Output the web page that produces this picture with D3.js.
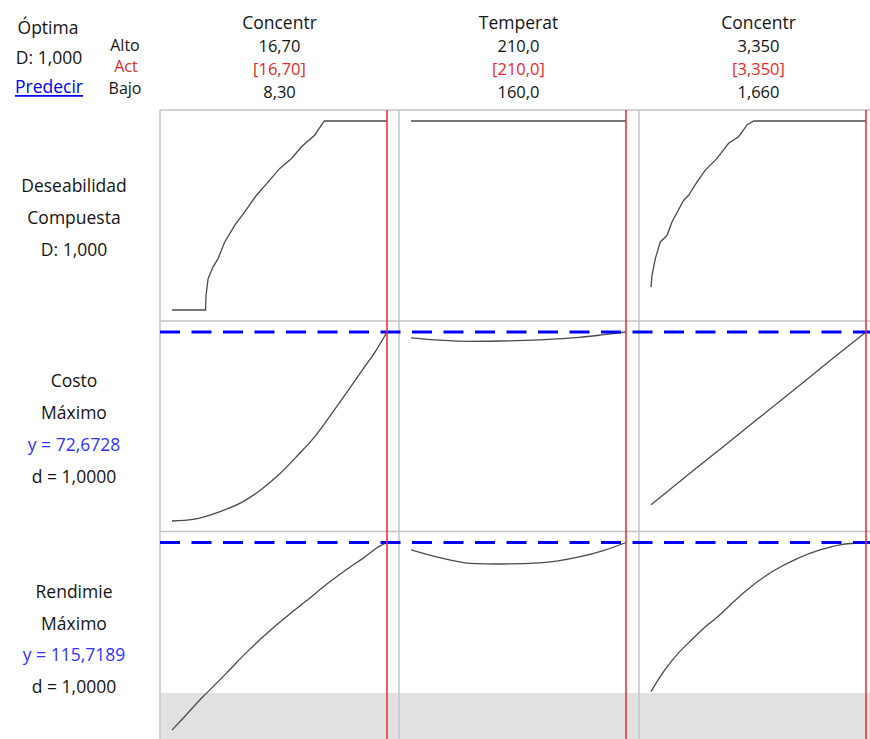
<!DOCTYPE html>
<html>
<head>
<meta charset="utf-8">
<script src="https://cdn.jsdelivr.net/npm/d3@7"></script>
<style>
  body { margin: 0; background: #fff; }
  svg { display: block; font-family: "Open Sans", "Noto Sans", sans-serif; }
</style>
</head>
<body>
<div id="viz"></div>
<script>
// factors (columns)
const factorNames = ["Concentr", "Temperat", "Concentr"];
const altoLabels = ["16,70", "210,0", "3,350"];
const actLabels = ["[16,70]", "[210,0]", "[3,350]"];
const bajoLabels = ["8,30", "160,0", "1,660"];
const factorLow = [8.30, 160.0, 1.660];
const factorHigh = [16.70, 210.0, 3.350];
const factorAct = [16.70, 210.0, 3.350];

// rows
const rowLabels = [
  ["Deseabilidad", "Compuesta", "D: 1,000"],
  ["Costo", "Máximo", "y = 72,6728", "d = 1,0000"],
  ["Rendimie", "Máximo", "y = 115,7189", "d = 1,0000"]
];
const rowDomains = [[0, 1], [25.0, 72.6728], [64.6, 115.7189]];
const optimumY = [null, 72.6728, 115.7189];
const rendLower = 75.0;

// composite desirability
const deseabConc1 = [[8.30,0],[9.61,0],[9.63,0.077],[9.71,0.166],[9.90,0.227],[10.10,0.272],[10.36,0.360],
  [10.75,0.448],[11.14,0.519],[11.60,0.607],[12.06,0.678],[12.51,0.749],[12.97,0.802],[13.36,0.864],
  [13.88,0.926],[14.25,1],[16.70,1]];
const deseabTemp = [[160.0,1],[210.0,1]];
const deseabConc2 = [[1.660,0.121],[1.668,0.183],[1.694,0.272],[1.733,0.360],[1.786,0.395],[1.825,0.466],
  [1.917,0.581],[1.956,0.607],[2.022,0.678],[2.087,0.740],[2.179,0.802],[2.270,0.882],[2.349,0.917],
  [2.415,0.979],[2.467,1],[3.350,1]];

// costo
const costoConc1 = [[8.30,25.0],[9.12,25.4],[10.23,27.5],[11.08,29.9],[11.80,33.0],[12.51,36.9],[13.23,41.7],
  [13.88,46.3],[14.54,52.1],[15.19,58.0],[15.77,63.4],[16.23,67.6],[16.70,72.6728]];
const costoTemp = [[160.0,71.2],[166.7,70.6],[173.7,70.3],[180.6,70.4],[189.9,70.7],[199.1,71.3],[204.9,72.0],[210.0,72.6728]];
const costoConc2 = [[1.660,29.1],[2.000,37.9],[2.400,48.2],[2.800,58.5],[3.100,66.3],[3.350,72.6728]];

// rendimiento
const rendConc1 = [[8.30,65.0],[8.67,67.7],[9.45,73.6],[9.77,75.8],[10.43,80.4],[11.21,86.0],[11.73,89.4],
  [12.38,93.4],[12.90,96.4],[13.56,100.0],[14.34,104.4],[15.12,108.4],[15.77,111.5],[16.43,114.8],[16.70,115.7189]];
const rendTemp = [[160.0,113.7],[166.7,111.6],[173.7,110.1],[180.6,109.9],[189.9,110.2],[199.1,111.8],[204.9,113.6],[210.0,115.7189]];
const rendConc2 = [[1.660,75.4],[1.731,79.4],[1.809,83.1],[1.875,85.8],[1.980,89.4],[2.110,93.6],[2.176,95.4],
  [2.307,99.6],[2.412,102.8],[2.621,108.0],[2.805,111.3],[2.988,113.7],[3.146,115.1],[3.350,115.7189]];

const curves = [
  [deseabConc1, deseabTemp, deseabConc2],
  [costoConc1, costoTemp, costoConc2],
  [rendConc1, rendTemp, rendConc2]
];

const W = 870, H = 739;
const colLeft = [160, 399, 639];
const colW = 239;
const rowTop = [110, 321, 531.5];
const rowH = 211;

const svg = d3.select("#viz").append("svg").attr("width", W).attr("height", H);

const xScales = colLeft.map((l, i) => d3.scaleLinear().domain([factorLow[i], factorHigh[i]]).range([l + 12, l + 227]));
const yScales = rowTop.map((t, j) => d3.scaleLinear().domain(rowDomains[j]).range([t + 200, t + 11]));

// gray zone below rendimiento lower bound
svg.append("rect")
  .attr("x", 160).attr("y", yScales[2](rendLower))
  .attr("width", W - 160).attr("height", H - yScales[2](rendLower))
  .attr("fill", "#e1e1e1");

// grid
const grid = svg.append("g").attr("stroke", "#c4c4c4").attr("stroke-width", 1.5);
rowTop.forEach(t => grid.append("line").attr("x1", 160).attr("x2", W).attr("y1", t).attr("y2", t));
colLeft.forEach(l => grid.append("line").attr("x1", l).attr("x2", l).attr("y1", 110).attr("y2", H));

// curves (desirability stays jagged, responses smoothed)
const lineLin = d3.line();
const lineSmooth = d3.line().curve(d3.curveMonotoneX);
curves.forEach((row, j) => {
  row.forEach((pts, i) => {
    const gen = j === 0 ? lineLin : lineSmooth;
    svg.append("path")
      .attr("d", gen(pts.map(p => [xScales[i](p[0]), yScales[j](p[1])])))
      .attr("fill", "none")
      .attr("stroke", "#4a4a4a")
      .attr("stroke-width", 1.3);
  });
});

// optimum lines
optimumY.forEach((v, j) => {
  if (v == null) return;
  svg.append("line")
    .attr("x1", 160).attr("x2", W)
    .attr("y1", yScales[j](v)).attr("y2", yScales[j](v))
    .attr("stroke", "#0000ff")
    .attr("stroke-width", 3)
    .attr("stroke-dasharray", "20,11.5");
});

// current settings
factorAct.forEach((v, i) => {
  svg.append("line")
    .attr("x1", xScales[i](v)).attr("x2", xScales[i](v))
    .attr("y1", 110).attr("y2", H)
    .attr("stroke", "#ea2a2a")
    .attr("stroke-width", 1.5);
});

// text
const txt = (x, y, s, color, size) => svg.append("text")
  .attr("x", x).attr("y", y)
  .attr("text-anchor", "middle")
  .attr("dominant-baseline", "central")
  .attr("font-size", size || 17.5)
  .attr("fill", color || "#141414")
  .text(s);

factorNames.forEach((f, i) => {
  const cx = colLeft[i] + colW / 2;
  txt(cx, 22, f);
  txt(cx, 45, altoLabels[i], null, 16.5);
  txt(cx, 68, actLabels[i], "#e8282c", 16.5);
  txt(cx, 91, bajoLabels[i], null, 16.5);
});

txt(48, 27, "Óptima");
txt(49, 57, "D: 1,000");
txt(49, 86, "Predecir", "#0000ee").attr("text-decoration", "underline");
txt(125, 45, "Alto", null, 16);
txt(126, 66, "Act", "#e8282c", 16);
txt(125, 88, "Bajo", null, 16);

rowLabels.forEach((lines, j) => {
  const cy = rowTop[j] + rowH / 2 + 1.5;
  const step = 31.7;
  lines.forEach((s, k) => {
    const y = cy + (k - (lines.length - 1) / 2) * step;
    txt(74, y, s, s.startsWith("y =") ? "#3232ff" : "#141414");
  });
});
</script>
</body>
</html>
